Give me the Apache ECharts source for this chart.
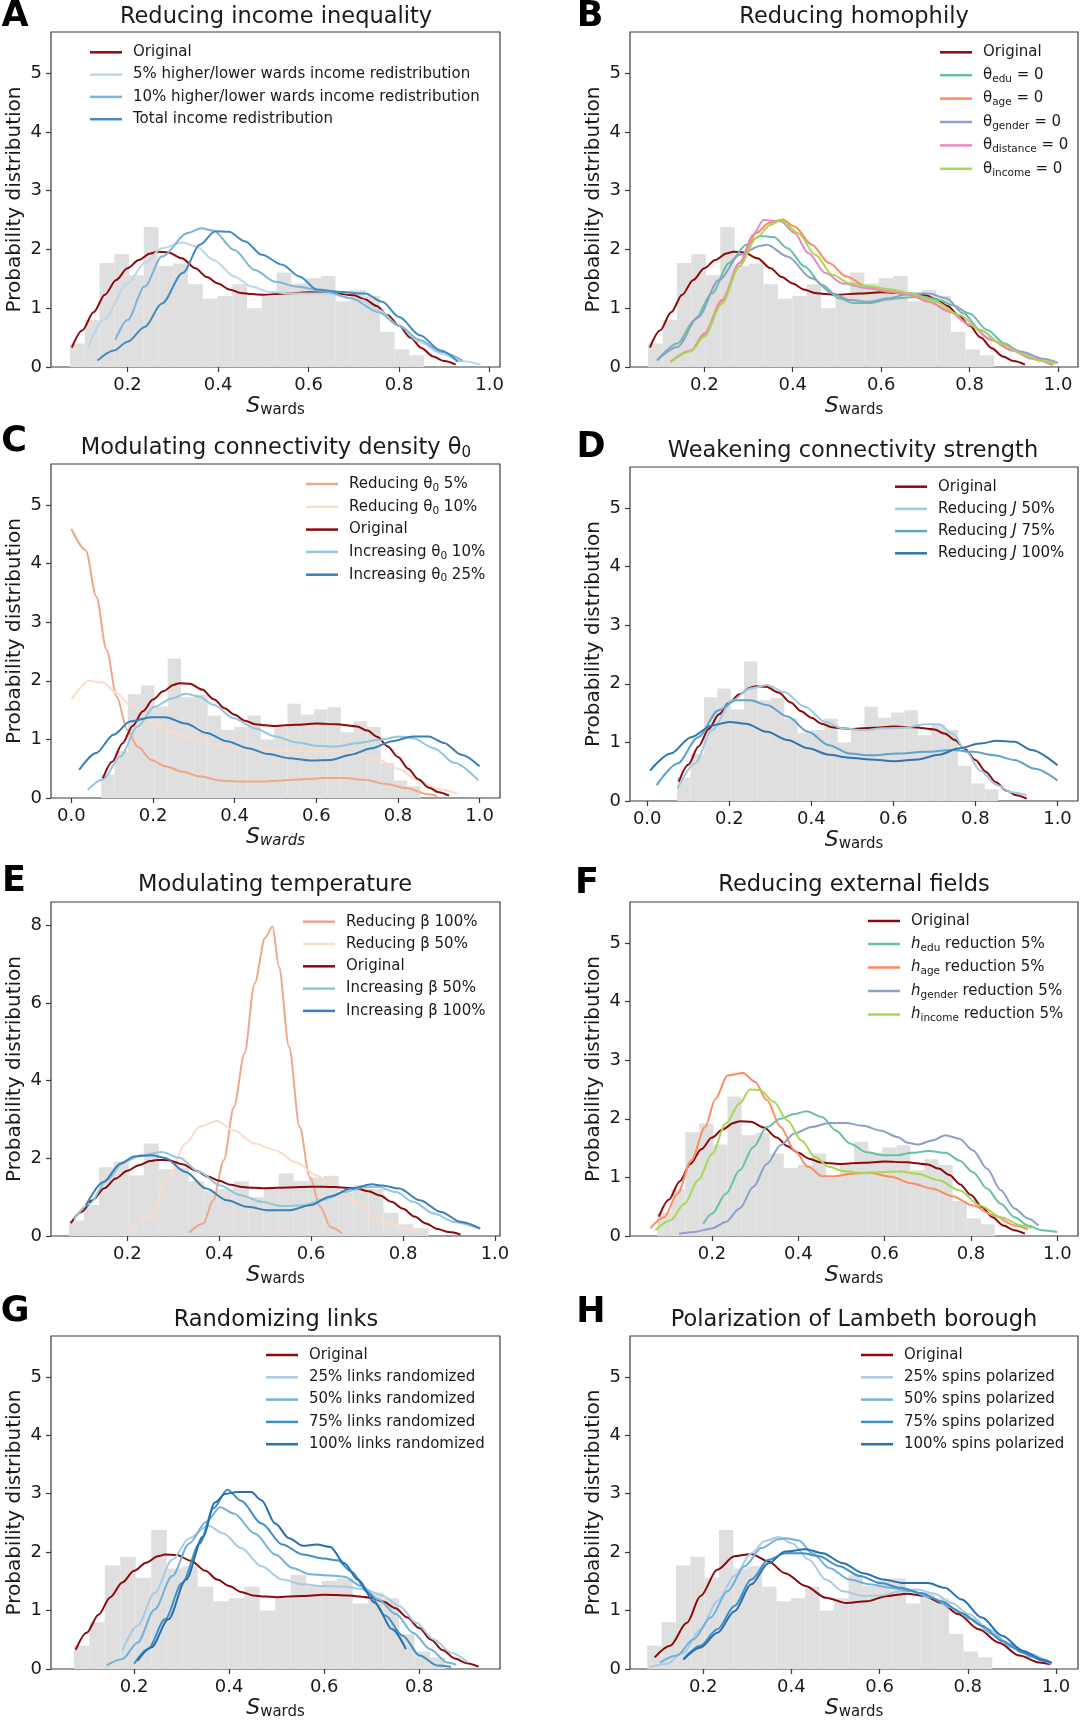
<!DOCTYPE html>
<html><head><meta charset="utf-8">
<script src="https://cdn.jsdelivr.net/npm/echarts/dist/echarts.min.js"></script>
<style>html,body{margin:0;padding:0;background:#fff}#chart{width:1080px;height:1721px}</style>
</head><body><div id="chart"></div>
<script>
const FONT = 'DejaVu Sans';

// ---------- histogram of the original S_wards (shared by all panels) ----------
const histStart = 0.073;
const histBinWidth = 0.0326;
const histHeights = [0.40, 0.80, 1.77, 1.92, 1.56, 2.38, 1.72, 1.76, 1.41, 1.16, 1.21, 1.41,
                     1.00, 1.21, 1.61, 1.42, 1.51, 1.55, 1.12, 1.31, 1.21, 0.60, 0.30, 0.20];

// ---------- tick labels ----------
const xTicksStd = [0.2, 0.4, 0.6, 0.8, 1.0];
const xTicksZero = [0.0, 0.2, 0.4, 0.6, 0.8, 1.0];
const xTicksG = [0.2, 0.4, 0.6, 0.8];
const yTicksStd = [0, 1, 2, 3, 4, 5];
const yTicksE = [0, 2, 4, 6, 8];

// ---------- curves ----------
const original = [[0.077,0.33],[0.1,0.62],[0.125,0.93],[0.15,1.23],[0.175,1.48],[0.2,1.68],[0.225,1.82],[0.25,1.93],[0.265,1.96],[0.29,1.95],[0.32,1.85],[0.35,1.68],[0.375,1.53],[0.4,1.42],[0.425,1.32],[0.45,1.26],[0.475,1.24],[0.5,1.23],[0.55,1.25],[0.6,1.27],[0.65,1.26],[0.7,1.22],[0.725,1.15],[0.75,1.04],[0.775,0.88],[0.8,0.7],[0.825,0.5],[0.85,0.32],[0.875,0.18],[0.9,0.1],[0.925,0.04]];

// A
const redist5 = [[0.113,0.34],[0.147,0.8],[0.2,1.42],[0.238,1.77],[0.276,2.02],[0.322,2.12],[0.352,2.05],[0.39,1.82],[0.436,1.54],[0.474,1.37],[0.512,1.28],[0.565,1.25],[0.64,1.25],[0.717,1.14],[0.755,0.97],[0.8,0.7],[0.846,0.42],[0.892,0.23],[0.937,0.1],[0.98,0.04]];
const redist10 = [[0.173,0.46],[0.2,0.8],[0.238,1.37],[0.276,1.88],[0.333,2.28],[0.363,2.36],[0.39,2.32],[0.436,1.99],[0.481,1.65],[0.527,1.45],[0.573,1.37],[0.64,1.28],[0.694,1.17],[0.755,0.93],[0.8,0.7],[0.846,0.46],[0.892,0.26],[0.94,0.11]];
const redistTotal = [[0.134,0.11],[0.17,0.28],[0.2,0.43],[0.238,0.68],[0.276,1.08],[0.322,1.6],[0.36,2.08],[0.394,2.31],[0.424,2.3],[0.459,2.14],[0.497,1.91],[0.542,1.74],[0.58,1.54],[0.618,1.32],[0.664,1.28],[0.725,1.25],[0.763,1.11],[0.8,0.85],[0.846,0.54],[0.892,0.28],[0.93,0.09]];

// B
const thetaEdu = [[0.093,0.11],[0.139,0.4],[0.178,0.8],[0.217,1.25],[0.256,1.77],[0.295,2.08],[0.326,2.23],[0.357,2.21],[0.388,2.02],[0.427,1.71],[0.466,1.4],[0.505,1.17],[0.536,1.09],[0.575,1.09],[0.614,1.15],[0.653,1.18],[0.692,1.2],[0.731,1.14],[0.762,1.05],[0.8,0.91],[0.84,0.63],[0.879,0.4],[0.918,0.23],[0.957,0.11],[0.988,0.06]];
const thetaAge = [[0.124,0.09],[0.17,0.28],[0.2,0.57],[0.24,1.14],[0.28,1.77],[0.318,2.28],[0.346,2.45],[0.377,2.51],[0.404,2.39],[0.443,2.08],[0.482,1.77],[0.521,1.54],[0.568,1.37],[0.614,1.28],[0.661,1.23],[0.708,1.11],[0.754,0.94],[0.801,0.71],[0.848,0.46],[0.895,0.28],[0.941,0.14],[0.988,0.03]];
const thetaGender = [[0.093,0.11],[0.139,0.34],[0.186,0.85],[0.233,1.48],[0.28,1.91],[0.326,2.06],[0.342,2.08],[0.388,1.88],[0.443,1.51],[0.49,1.25],[0.529,1.14],[0.575,1.11],[0.614,1.17],[0.669,1.25],[0.708,1.25],[0.747,1.17],[0.786,0.91],[0.824,0.63],[0.871,0.4],[0.918,0.26],[0.965,0.14],[1.0,0.07]];
const thetaDistance = [[0.124,0.09],[0.17,0.28],[0.2,0.55],[0.24,1.12],[0.28,1.78],[0.31,2.25],[0.334,2.5],[0.373,2.48],[0.404,2.28],[0.435,1.94],[0.474,1.6],[0.513,1.42],[0.568,1.34],[0.614,1.3],[0.661,1.24],[0.708,1.12],[0.754,0.95],[0.801,0.72],[0.848,0.47],[0.895,0.29],[0.941,0.15],[0.99,0.05]];
const thetaIncome = [[0.124,0.09],[0.17,0.27],[0.2,0.52],[0.24,1.08],[0.28,1.72],[0.318,2.2],[0.35,2.42],[0.373,2.5],[0.412,2.28],[0.451,1.91],[0.49,1.57],[0.529,1.42],[0.575,1.37],[0.622,1.32],[0.669,1.25],[0.723,1.11],[0.778,0.88],[0.824,0.63],[0.871,0.4],[0.918,0.23],[0.957,0.11],[0.996,0.06]];

// C
const theta0Red5 = [[0,4.59],[0.035,4.23],[0.061,3.44],[0.086,2.53],[0.111,1.73],[0.137,1.16],[0.162,0.88],[0.196,0.65],[0.23,0.54],[0.272,0.45],[0.314,0.37],[0.365,0.3],[0.415,0.28],[0.466,0.28],[0.516,0.3],[0.567,0.32],[0.618,0.34],[0.668,0.34],[0.719,0.31],[0.77,0.24],[0.82,0.17],[0.871,0.07],[0.896,0.03]];
const theta0Red10 = [[0,1.68],[0.044,2.0],[0.078,1.97],[0.111,1.79],[0.145,1.58],[0.2,1.3],[0.25,1.12],[0.3,1.0],[0.35,0.92],[0.4,0.86],[0.45,0.82],[0.5,0.8],[0.55,0.8],[0.6,0.8],[0.65,0.8],[0.7,0.76],[0.75,0.66],[0.8,0.5],[0.85,0.3],[0.9,0.15],[0.947,0.07]];
const theta0Inc10 = [[0.04,0.14],[0.078,0.32],[0.12,0.71],[0.162,1.22],[0.204,1.56],[0.246,1.7],[0.28,1.78],[0.314,1.73],[0.348,1.59],[0.398,1.36],[0.449,1.19],[0.5,1.05],[0.55,0.95],[0.6,0.89],[0.651,0.88],[0.702,0.94],[0.753,0.99],[0.803,1.05],[0.837,1.02],[0.888,0.85],[0.938,0.6],[0.997,0.3]];
const theta0Inc25 = [[0.019,0.48],[0.061,0.77],[0.103,1.08],[0.145,1.31],[0.196,1.38],[0.23,1.38],[0.28,1.27],[0.331,1.11],[0.381,0.97],[0.432,0.85],[0.483,0.75],[0.534,0.68],[0.584,0.64],[0.635,0.65],[0.685,0.74],[0.736,0.85],[0.786,0.97],[0.837,1.05],[0.875,1.05],[0.913,0.94],[0.955,0.74],[1.0,0.54]];

// D
const jRed50 = [[0.074,0.21],[0.116,0.64],[0.158,1.21],[0.208,1.72],[0.25,1.92],[0.292,1.98],[0.334,1.86],[0.384,1.61],[0.434,1.35],[0.476,1.24],[0.526,1.21],[0.577,1.24],[0.627,1.25],[0.677,1.31],[0.711,1.31],[0.744,1.15],[0.778,0.84],[0.811,0.52],[0.853,0.27],[0.887,0.15],[0.925,0.1]];
const jRed75 = [[0.023,0.27],[0.074,0.64],[0.124,1.09],[0.174,1.55],[0.216,1.72],[0.25,1.72],[0.292,1.64],[0.342,1.44],[0.392,1.18],[0.443,0.95],[0.493,0.81],[0.543,0.78],[0.61,0.81],[0.677,0.84],[0.744,0.87],[0.795,0.84],[0.845,0.78],[0.895,0.7],[0.945,0.55],[1.0,0.35]];
const jRed100 = [[0.007,0.52],[0.057,0.81],[0.107,1.09],[0.158,1.29],[0.2,1.35],[0.241,1.32],[0.292,1.18],[0.342,1.04],[0.392,0.9],[0.443,0.79],[0.493,0.74],[0.543,0.71],[0.602,0.68],[0.66,0.71],[0.711,0.79],[0.761,0.9],[0.811,0.98],[0.853,1.03],[0.895,1.01],[0.937,0.87],[1.0,0.61]];

// E
const betaRed100 = [[0.335,0.09],[0.365,0.32],[0.387,0.92],[0.41,1.95],[0.432,3.32],[0.455,4.7],[0.477,6.5],[0.5,7.68],[0.516,7.97],[0.53,6.93],[0.552,4.87],[0.575,2.81],[0.597,1.52],[0.62,0.75],[0.642,0.23],[0.668,0.06]];
const betaRed50 = [[0.2,0.05],[0.25,0.5],[0.29,1.52],[0.327,2.38],[0.357,2.81],[0.395,2.96],[0.432,2.72],[0.477,2.38],[0.522,2.21],[0.567,1.9],[0.612,1.56],[0.657,1.22],[0.702,0.83],[0.747,0.45],[0.792,0.23],[0.837,0.1]];
const betaInc50 = [[0.084,0.43],[0.118,0.83],[0.155,1.43],[0.193,1.91],[0.23,2.08],[0.275,2.16],[0.312,2.02],[0.357,1.65],[0.402,1.3],[0.447,1.05],[0.492,0.88],[0.537,0.77],[0.582,0.79],[0.627,0.94],[0.672,1.13],[0.717,1.26],[0.747,1.26],[0.785,1.13],[0.822,0.88],[0.867,0.58],[0.912,0.36],[0.965,0.19]];
const betaInc100 = [[0.11,0.79],[0.148,1.39],[0.185,1.86],[0.215,2.05],[0.253,2.08],[0.282,2.01],[0.327,1.65],[0.372,1.22],[0.417,0.92],[0.462,0.75],[0.507,0.66],[0.552,0.66],[0.597,0.79],[0.642,1.02],[0.687,1.22],[0.732,1.33],[0.755,1.3],[0.792,1.22],[0.837,0.92],[0.882,0.62],[0.927,0.36],[0.968,0.19]];

// F
const hEdu = [[0.18,0.21],[0.2,0.38],[0.232,0.72],[0.264,1.12],[0.296,1.52],[0.327,1.86],[0.359,2.0],[0.391,2.08],[0.419,2.13],[0.455,2.03],[0.487,1.8],[0.519,1.58],[0.558,1.43],[0.598,1.38],[0.63,1.38],[0.662,1.42],[0.702,1.45],[0.742,1.42],[0.773,1.29],[0.805,1.09],[0.837,0.81],[0.869,0.55],[0.901,0.32],[0.932,0.18],[0.964,0.1],[1.0,0.07]];
const hAge = [[0.057,0.13],[0.089,0.32],[0.12,0.72],[0.152,1.29],[0.184,1.86],[0.208,2.34],[0.236,2.74],[0.272,2.78],[0.3,2.63],[0.327,2.32],[0.359,1.86],[0.391,1.46],[0.423,1.18],[0.455,1.02],[0.487,1.02],[0.519,1.06],[0.566,1.08],[0.614,1.01],[0.662,0.9],[0.71,0.81],[0.757,0.68],[0.805,0.52],[0.853,0.35],[0.901,0.18],[0.932,0.11]];
const hGender = [[0.124,0.04],[0.16,0.07],[0.2,0.13],[0.232,0.24],[0.264,0.47],[0.296,0.84],[0.327,1.23],[0.359,1.55],[0.391,1.75],[0.431,1.86],[0.471,1.93],[0.51,1.93],[0.55,1.88],[0.59,1.8],[0.63,1.69],[0.654,1.59],[0.678,1.56],[0.71,1.63],[0.741,1.72],[0.773,1.66],[0.805,1.46],[0.837,1.15],[0.869,0.78],[0.901,0.47],[0.932,0.3],[0.956,0.18]];
const hIncome = [[0.069,0.1],[0.104,0.27],[0.136,0.55],[0.168,0.95],[0.2,1.4],[0.232,1.92],[0.264,2.26],[0.288,2.5],[0.311,2.49],[0.343,2.29],[0.375,1.97],[0.407,1.63],[0.439,1.35],[0.471,1.18],[0.503,1.11],[0.542,1.08],[0.59,1.09],[0.638,1.1],[0.678,1.06],[0.726,0.95],[0.773,0.78],[0.821,0.52],[0.869,0.32],[0.917,0.18],[0.94,0.13]];

// G
const rand25 = [[0.175,0.31],[0.207,0.74],[0.243,1.3],[0.28,1.87],[0.316,2.24],[0.356,2.45],[0.388,2.32],[0.425,2.07],[0.468,1.76],[0.512,1.53],[0.555,1.45],[0.599,1.42],[0.642,1.41],[0.686,1.36],[0.722,1.26],[0.758,1.08],[0.794,0.79],[0.83,0.51],[0.867,0.28],[0.903,0.11]];
const rand50 = [[0.142,0.06],[0.175,0.17],[0.207,0.45],[0.243,1.02],[0.28,1.59],[0.316,2.15],[0.352,2.52],[0.381,2.77],[0.41,2.66],[0.454,2.32],[0.497,1.96],[0.533,1.73],[0.57,1.62],[0.613,1.6],[0.642,1.58],[0.678,1.42],[0.714,1.19],[0.751,0.94],[0.787,0.62],[0.823,0.34],[0.859,0.11],[0.878,0.07]];
const rand75 = [[0.2,0.09],[0.229,0.34],[0.265,0.85],[0.301,1.47],[0.338,2.15],[0.367,2.75],[0.396,3.07],[0.425,2.88],[0.468,2.49],[0.512,2.13],[0.555,1.96],[0.599,1.89],[0.628,1.86],[0.657,1.67],[0.693,1.3],[0.729,0.91],[0.765,0.57],[0.801,0.23],[0.838,0.06],[0.867,0.04]];
const rand100 = [[0.207,0.14],[0.236,0.37],[0.272,0.85],[0.309,1.53],[0.345,2.27],[0.37,2.85],[0.392,3.0],[0.417,3.03],[0.446,3.03],[0.468,2.89],[0.497,2.49],[0.526,2.24],[0.555,2.11],[0.584,2.13],[0.613,2.09],[0.642,1.81],[0.671,1.53],[0.707,1.13],[0.743,0.68],[0.772,0.34]];

// H
const originalH = [[0.09,0.2],[0.125,0.4],[0.163,0.79],[0.194,1.25],[0.232,1.7],[0.271,1.93],[0.309,1.97],[0.348,1.84],[0.386,1.64],[0.432,1.42],[0.478,1.22],[0.525,1.13],[0.571,1.16],[0.617,1.25],[0.663,1.29],[0.702,1.25],[0.74,1.13],[0.778,0.94],[0.825,0.68],[0.871,0.45],[0.917,0.23],[0.963,0.11],[0.986,0.08]];
const pol25 = [[0.078,0.03],[0.117,0.09],[0.155,0.28],[0.194,0.68],[0.232,1.16],[0.271,1.59],[0.309,1.98],[0.34,2.19],[0.371,2.26],[0.402,2.15],[0.44,1.87],[0.478,1.53],[0.517,1.33],[0.563,1.25],[0.602,1.26],[0.648,1.33],[0.686,1.36],[0.725,1.29],[0.763,1.13],[0.802,0.94],[0.848,0.68],[0.894,0.43],[0.94,0.26],[0.986,0.1]];
const pol50 = [[0.102,0.11],[0.14,0.23],[0.178,0.51],[0.217,0.88],[0.255,1.33],[0.294,1.76],[0.332,2.07],[0.371,2.22],[0.386,2.24],[0.417,2.2],[0.448,1.98],[0.486,1.73],[0.532,1.53],[0.578,1.45],[0.625,1.39],[0.671,1.33],[0.717,1.22],[0.763,1.05],[0.809,0.85],[0.855,0.6],[0.902,0.37],[0.948,0.2],[0.99,0.08]];
const pol75 = [[0.155,0.17],[0.194,0.4],[0.232,0.68],[0.271,1.08],[0.309,1.53],[0.348,1.87],[0.386,1.98],[0.425,1.98],[0.463,1.93],[0.509,1.76],[0.555,1.59],[0.602,1.47],[0.648,1.39],[0.694,1.3],[0.74,1.16],[0.786,0.96],[0.832,0.74],[0.878,0.48],[0.925,0.28],[0.971,0.14],[0.99,0.1]];
const pol100 = [[0.155,0.16],[0.194,0.37],[0.232,0.62],[0.271,0.99],[0.309,1.45],[0.348,1.81],[0.386,2.01],[0.432,2.05],[0.471,1.98],[0.517,1.81],[0.563,1.64],[0.609,1.53],[0.655,1.47],[0.709,1.47],[0.748,1.39],[0.786,1.19],[0.832,0.88],[0.878,0.57],[0.925,0.31],[0.971,0.16],[0.99,0.11]];

// ---------- styling / layout (kept apart from the data) ----------
const C_ORIG = '#8b0a0a';
const TXT = '#1a1a1a';
const AX = '#3a3a3a';

const panels = [
  {letter:'A', letterPos:[15,17], title:'Reducing income inequality', titlePos:[276,17],
   grid:{left:51,top:32,width:449,height:335}, xRange:[0.031,1.023], yMax:5.7, xTicks:xTicksStd, yTicks:yTicksStd,
   legendPos:[90,52.3], legendStep:22.3,
   series:[['Original',original,C_ORIG],['5% higher/lower wards income redistribution',redist5,'#bcd6ea'],['10% higher/lower wards income redistribution',redist10,'#7db4d8'],['Total income redistribution',redistTotal,'#3f8dbf']]},
  {letter:'B', letterPos:[590,17], title:'Reducing homophily', titlePos:[854,17],
   grid:{left:630,top:32,width:448,height:335}, xRange:[0.032,1.045], yMax:5.7, xTicks:xTicksStd, yTicks:yTicksStd,
   legendPos:[940,52.3], legendStep:22.9,
   series:[['Original',original,C_ORIG],['θedu = 0',thetaEdu,'#66c2a5'],['θage = 0',thetaAge,'#fc8d62'],['θgender = 0',thetaGender,'#8da0cb'],['θdistance = 0',thetaDistance,'#e78ac3'],['θincome = 0',thetaIncome,'#a6d854']]},
  {letter:'C', letterPos:[14,442], title:'Modulating connectivity density θ{sub|0}', titlePos:[276,448],
   grid:{left:51,top:464,width:449,height:334}, xRange:[-0.05,1.05], yMax:5.7, xTicks:xTicksZero, yTicks:yTicksStd,
   legendPos:[306,484], legendStep:22.3, italicSub:true,
   series:[['Reducing θ0 5%',theta0Red5,'#f0a789'],['Reducing θ0 10%',theta0Red10,'#fbdcca'],['Original',original,C_ORIG],['Increasing θ0 10%',theta0Inc10,'#92c5de'],['Increasing θ0 25%',theta0Inc25,'#3a7fb8']]},
  {letter:'D', letterPos:[591,448], title:'Weakening connectivity strength', titlePos:[853,451],
   grid:{left:630,top:467,width:448,height:334}, xRange:[-0.042,1.05], yMax:5.7, xTicks:xTicksZero, yTicks:yTicksStd,
   legendPos:[895,486.7], legendStep:22.2,
   series:[['Original',original,C_ORIG],['Reducing J 50%',jRed50,'#9ecae1'],['Reducing J 75%',jRed75,'#5ea3cc'],['Reducing J 100%',jRed100,'#2f76b1']]},
  {letter:'E', letterPos:[14,882], title:'Modulating temperature', titlePos:[275,885],
   grid:{left:51,top:902,width:449,height:334}, xRange:[0.034,1.011], yMax:8.6, xTicks:xTicksStd, yTicks:yTicksE,
   legendPos:[303,921.7], legendStep:22.3,
   series:[['Reducing β 100%',betaRed100,'#f0a789'],['Reducing β 50%',betaRed50,'#fbdcca'],['Original',original,C_ORIG],['Increasing β 50%',betaInc50,'#92c5de'],['Increasing β 100%',betaInc100,'#3a7fb8']]},
  {letter:'F', letterPos:[587,884], title:'Reducing external fields', titlePos:[854,885],
   grid:{left:630,top:902,width:448,height:334}, xRange:[0.01,1.048], yMax:5.7, xTicks:xTicksStd, yTicks:yTicksStd,
   legendPos:[868,921], legendStep:23,
   series:[['Original',original,C_ORIG],['hedu reduction 5%',hEdu,'#66c2a5'],['hage reduction 5%',hAge,'#fc8d62'],['hgender reduction 5%',hGender,'#8da0cb'],['hincome reduction 5%',hIncome,'#a6d854']]},
  {letter:'G', letterPos:[15,1312], title:'Randomizing links', titlePos:[276,1320],
   grid:{left:51,top:1336,width:449,height:334}, xRange:[0.025,0.97], yMax:5.7, xTicks:xTicksG, yTicks:yTicksStd,
   legendPos:[266,1355], legendStep:22.3,
   series:[['Original',original,C_ORIG],['25% links randomized',rand25,'#a9cce4'],['50% links randomized',rand50,'#73b2d8'],['75% links randomized',rand75,'#3f8fc6'],['100% links randomized',rand100,'#2470b2']]},
  {letter:'H', letterPos:[591,1313], title:'Polarization of Lambeth borough', titlePos:[854,1320],
   grid:{left:630,top:1336,width:448,height:334}, xRange:[0.034,1.05], yMax:5.7, xTicks:xTicksStd, yTicks:yTicksStd,
   legendPos:[861,1355], legendStep:22.3,
   series:[['Original',originalH,C_ORIG],['25% spins polarized',pol25,'#a9cce4'],['50% spins polarized',pol50,'#73b2d8'],['75% spins polarized',pol75,'#3f8fc6'],['100% spins polarized',pol100,'#2470b2']]}
];

const legendLabels = {
  'θedu = 0':'θ{s|edu} = 0', 'θage = 0':'θ{s|age} = 0', 'θgender = 0':'θ{s|gender} = 0',
  'θdistance = 0':'θ{s|distance} = 0', 'θincome = 0':'θ{s|income} = 0',
  'Reducing θ0 5%':'Reducing θ{s|0} 5%', 'Reducing θ0 10%':'Reducing θ{s|0} 10%',
  'Increasing θ0 10%':'Increasing θ{s|0} 10%', 'Increasing θ0 25%':'Increasing θ{s|0} 25%',
  'Reducing J 50%':'Reducing {i|J} 50%', 'Reducing J 75%':'Reducing {i|J} 75%', 'Reducing J 100%':'Reducing {i|J} 100%',
  'hedu reduction 5%':'{i|h}{s|edu} reduction 5%', 'hage reduction 5%':'{i|h}{s|age} reduction 5%',
  'hgender reduction 5%':'{i|h}{s|gender} reduction 5%', 'hincome reduction 5%':'{i|h}{s|income} reduction 5%'
};
const legendRich = {
  s:{fontSize:10.5, fontFamily:FONT, color:TXT, padding:[8,0,0,0]},
  i:{fontSize:15, fontFamily:FONT, color:TXT, fontStyle:'italic'}
};

const histData = histHeights.map((h,k)=>[histStart + k*histBinWidth, histStart + (k+1)*histBinWidth, h]);

function renderBin(params, api){
  const p0 = api.coord([api.value(0), 0]);
  const p1 = api.coord([api.value(1), api.value(2)]);
  return {type:'rect', shape:{x:p0[0], y:p1[1], width:p1[0]-p0[0], height:p0[1]-p1[1]}, style:{fill:'#dfdfdf'}};
}

const grids=[], xAxes=[], yAxes=[], series=[], legends=[], graphics=[];
panels.forEach((p,i)=>{
  grids.push(Object.assign({show:true, borderColor:AX, borderWidth:1.2, backgroundColor:'transparent'}, p.grid));
  xAxes.push({type:'value', gridIndex:i, min:p.xRange[0], max:p.xRange[1],
    name: '{s|S}{w|wards}', nameLocation:'middle', nameGap:27,
    nameTextStyle:{rich:{s:{fontSize:22, fontStyle:'italic', fontFamily:FONT, color:TXT}, w:{fontSize:15, fontFamily:FONT, color:TXT, fontStyle:p.italicSub?'italic':'normal', padding:[9,0,0,0]}}},
    axisLine:{show:false, onZero:false}, splitLine:{show:false},
    axisTick:{show:true, length:5, lineStyle:{color:AX, width:1.2}, customValues:p.xTicks},
    axisLabel:{customValues:p.xTicks, formatter:v=>Number(v).toFixed(1), fontSize:18, fontFamily:FONT, color:TXT, margin:9}});
  yAxes.push({type:'value', gridIndex:i, min:0, max:p.yMax,
    name:'Probability distribution', nameLocation:'middle', nameGap:26, nameRotate:90,
    nameTextStyle:{fontSize:20, fontFamily:FONT, color:TXT},
    axisLine:{show:false, onZero:false}, splitLine:{show:false},
    axisTick:{show:true, length:5, lineStyle:{color:AX, width:1.2}, customValues:p.yTicks},
    axisLabel:{customValues:p.yTicks, formatter:v=>String(v), fontSize:18, fontFamily:FONT, color:TXT, margin:9}});
  series.push({type:'custom', xAxisIndex:i, yAxisIndex:i, data:histData, encode:{x:[0,1], y:2}, renderItem:renderBin, silent:true, z:1});
  p.series.forEach(([name, data, color])=>{
    series.push({type:'line', name, xAxisIndex:i, yAxisIndex:i, data, color, showSymbol:false, symbol:'none',
      smooth:0.3, smoothMonotone:'x', lineStyle:{width:2, color}, z:2});
  });
  legends.push({orient:'vertical', left:p.legendPos[0], top:p.legendPos[1]-9, itemWidth:32, itemHeight:2.5,
    itemGap:p.legendStep-18, icon:'rect', selectedMode:false, padding:0,
    data:p.series.map(s=>s[0]), formatter:n=>legendLabels[n]||n,
    textStyle:{fontFamily:FONT, fontSize:15, color:TXT, lineHeight:18, padding:[0,0,0,6], rich:legendRich}});
  graphics.push({type:'text', x:p.titlePos[0], y:p.titlePos[1], style:{text:p.title, fontSize:22.5, fontFamily:FONT, fill:TXT,
    align:'center', verticalAlign:'middle', rich:{sub:{fontSize:15, fontFamily:FONT, fill:TXT, padding:[10,0,0,0]}}}});
  graphics.push({type:'text', x:p.letterPos[0], y:p.letterPos[1], style:{text:p.letter, fontSize:35, fontWeight:'bold', fontFamily:FONT, fill:'#000',
    align:'center', verticalAlign:'middle'}});
});

const chart = echarts.init(document.getElementById('chart'), null, {renderer:'canvas'});
chart.setOption({animation:false, backgroundColor:'#fff', grid:grids, xAxis:xAxes, yAxis:yAxes, series, legend:legends, graphic:graphics});
</script></body></html>
